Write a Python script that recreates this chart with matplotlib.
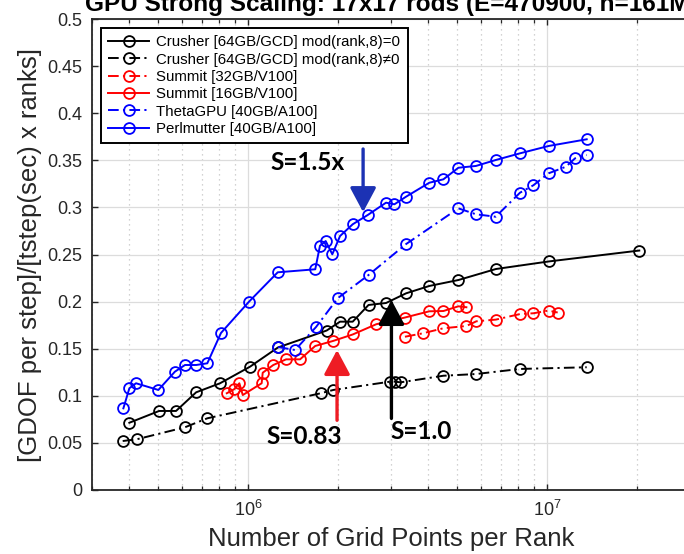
import matplotlib
matplotlib.use("Agg")
import matplotlib.pyplot as plt
from matplotlib.ticker import LogLocator, NullFormatter
from matplotlib.patches import ArrowStyle

plt.rcParams['font.family'] = ['Liberation Sans', 'DejaVu Sans']
plt.rcParams['mathtext.fontset'] = 'custom'
plt.rcParams['mathtext.rm'] = 'Liberation Sans'
plt.rcParams['mathtext.it'] = 'Liberation Sans:italic'
plt.rcParams['mathtext.bf'] = 'Liberation Sans:bold'

# ---- data: grid points per rank vs. throughput ----
crusher0_x = [4.0e5, 5.03e5, 5.73e5, 6.69e5, 8.04e5, 1.013e6, 1.256e6, 1.828e6, 2.026e6,
              2.234e6, 2.523e6, 2.887e6, 3.37e6, 4.03e6, 5.04e6, 6.73e6, 1.01e7, 2.03e7]
crusher0_y = [0.0714, 0.0839, 0.0839, 0.1037, 0.1133, 0.1309, 0.1513, 0.1693, 0.1787,
              0.1787, 0.1964, 0.1985, 0.2088, 0.2166, 0.2229, 0.2346, 0.2426, 0.2542]

crusher1_x = [3.8e5, 4.23e5, 6.14e5, 7.29e5, 1.746e6, 1.924e6, 2.977e6, 3.09e6, 3.23e6,
              4.49e6, 5.77e6, 8.1e6, 1.354e7]
crusher1_y = [0.052, 0.0538, 0.0666, 0.0761, 0.1027, 0.1062, 0.115, 0.115, 0.1143,
              0.1213, 0.1231, 0.1285, 0.1303]

summit32_x = [3.34e6, 3.83e6, 4.49e6, 5.36e6, 5.79e6, 6.73e6, 8.1e6, 8.98e6, 1.01e7, 1.083e7]
summit32_y = [0.1627, 0.1663, 0.1717, 0.1741, 0.1791, 0.1809, 0.1868, 0.1876, 0.1905, 0.1884]

summit16_x = [8.47e5, 8.96e5, 9.33e5, 9.58e5, 1.108e6, 1.117e6, 1.212e6, 1.337e6, 1.489e6,
              1.674e6, 1.919e6, 2.234e6, 2.679e6, 3.34e6, 4.03e6, 4.49e6, 5.04e6, 5.36e6]
summit16_y = [0.1027, 0.1069, 0.1133, 0.1008, 0.1133, 0.1245, 0.1327, 0.1387, 0.1387,
              0.1529, 0.1582, 0.1651, 0.176, 0.1831, 0.1897, 0.19, 0.195, 0.194]

theta_x = [1.256e6, 1.433e6, 1.684e6, 1.994e6, 2.523e6, 3.37e6, 5.04e6, 5.77e6, 6.72e6,
           8.1e6, 8.98e6, 1.01e7, 1.154e7, 1.238e7, 1.354e7]
theta_y = [0.1518, 0.1486, 0.173, 0.2038, 0.2282, 0.2611, 0.299, 0.2927, 0.2901,
           0.3156, 0.3235, 0.3362, 0.3432, 0.3521, 0.3556]

perl_x = [3.82e5, 4.0e5, 4.21e5, 5.0e5, 5.68e5, 6.14e5, 6.69e5, 7.29e5, 8.10e5, 1.005e6,
          1.254e6, 1.674e6, 1.736e6, 1.814e6, 1.909e6, 2.026e6, 2.234e6, 2.507e6, 2.887e6,
          3.08e6, 3.37e6, 4.03e6, 4.49e6, 5.04e6, 5.77e6, 6.72e6, 8.1e6, 1.01e7, 1.354e7]
perl_y = [0.0867, 0.108, 0.1133, 0.1062, 0.1256, 0.1327, 0.1327, 0.1345, 0.1667, 0.1999,
          0.2311, 0.2343, 0.2593, 0.2643, 0.2502, 0.2696, 0.2821, 0.2919, 0.305,
          0.3033, 0.3114, 0.3262, 0.3298, 0.3421, 0.344, 0.3503, 0.3574, 0.3652, 0.3723]

labels = ["Crusher [64GB/GCD] mod(rank,8)=0",
          "Crusher [64GB/GCD] mod(rank,8)\u22600",
          "Summit [32GB/V100]",
          "Summit [16GB/V100]",
          "ThetaGPU [40GB/A100]",
          "Perlmutter [40GB/A100]"]

title = "GPU Strong Scaling: 17x17 rods (E=470900, n=161M)"
xlabel = "Number of Grid Points per Rank"
ylabel = "[GDOF per step]/[tstep(sec) x ranks]"

# ---- figure ----
W, H = 684, 554
fig = plt.figure(figsize=(W / 100, H / 100), dpi=100)
ax = fig.add_axes([92 / W, 64 / H, 598 / W, 471 / H])

dashdot = (0, (5.5, 2.2, 1.1, 2.2))
common = dict(marker='o', markersize=7.8, markerfacecolor='none', markeredgewidth=1.3,
              linewidth=1.4)

series = [
    (crusher0_x, crusher0_y, 'k', '-'),
    (crusher1_x, crusher1_y, 'k', dashdot),
    (summit32_x, summit32_y, 'r', dashdot),
    (summit16_x, summit16_y, 'r', '-'),
    (theta_x, theta_y, 'b', dashdot),
    (perl_x, perl_y, 'b', '-'),
]
for (xs, ys, c, ls), lab in zip(series, labels):
    ax.plot(xs, ys, color=c, linestyle=ls, markeredgecolor=c, label=lab, **common)

ax.set_xscale('log')
ax.set_xlim(3e5, 3e7)
ax.set_ylim(0, 0.5)
ax.set_yticks([0, 0.05, 0.1, 0.15, 0.2, 0.25, 0.3, 0.35, 0.4, 0.45, 0.5])
ax.set_yticklabels(['0', '0.05', '0.1', '0.15', '0.2', '0.25', '0.3', '0.35', '0.4', '0.45', '0.5'])
ax.xaxis.set_major_locator(LogLocator(base=10, numticks=10))
ax.xaxis.set_minor_locator(LogLocator(base=10, subs=range(2, 10), numticks=20))
ax.xaxis.set_minor_formatter(NullFormatter())

axc = (0.15, 0.15, 0.15)
for s in ax.spines.values():
    s.set_color(axc)
    s.set_linewidth(1.3)
ax.tick_params(which='both', direction='in', top=True, right=True, colors=axc,
               labelcolor='#262626', labelsize=13)
ax.tick_params(which='major', length=4, width=1.0)
ax.tick_params(which='minor', length=3, width=0.9)
ax.tick_params(axis='y', pad=7)
ax.tick_params(axis='x', pad=7)

ax.set_axisbelow(True)
ax.grid(True, which='major', color='#dcdcdc', linewidth=0.9, linestyle='-')
ax.xaxis.grid(True, which='minor', color='#c4c4c4', linewidth=0.9, linestyle=(0, (1, 3)))

ax.set_title(title, fontsize=17.6, fontweight='bold', pad=6, color='black')
ax.set_xlabel(xlabel, fontsize=18.5, color='#262626', labelpad=5)
ax.set_ylabel(ylabel, fontsize=18.5, color='#262626', labelpad=4)

leg = ax.legend(loc='upper left', bbox_to_anchor=(0.015, 0.981), borderaxespad=0,
                fontsize=10.8, handlelength=2.7, handletextpad=0.5, labelspacing=0.22,
                borderpad=0.5, fancybox=False, framealpha=1, edgecolor='black')
leg.get_frame().set_linewidth(1.4)

# ---- speed-up annotations ----
def arrow(color):
    return dict(arrowstyle=ArrowStyle('-|>', head_length=1.5, head_width=0.8),
                mutation_scale=10, color=color, lw=2.4, shrinkA=0, shrinkB=0)

ax.annotate('', xy=(2.42e6, 0.295), xytext=(2.42e6, 0.362), arrowprops=arrow('#1c32b4'))
ax.annotate('', xy=(1.98e6, 0.1486), xytext=(1.98e6, 0.074), arrowprops=arrow('#ee1c24'))
ax.annotate('', xy=(3.01e6, 0.2017), xytext=(3.01e6, 0.076), arrowprops=arrow('black'))

bold = dict(fontsize=17.6, fontweight='bold', ha='center', va='center', color='black',
            family=['Lato', 'Liberation Sans'])
ax.text(1.58e6, 0.348, 'S=1.5x', **bold)
ax.text(1.54e6, 0.057, 'S=0.83', **bold)
ax.text(3.79e6, 0.062, 'S=1.0', **bold)

fig.savefig('out.png', dpi=100)
